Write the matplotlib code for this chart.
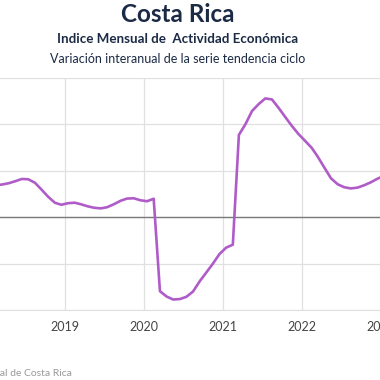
import matplotlib.pyplot as plt
import matplotlib.dates as mdates
import pandas as pd
import datetime as dt

# variacion interanual IMAE, serie tendencia ciclo (%), ene-2018 .. ene-2023
valores = [3.33, 3.44, 3.52, 3.66, 3.87, 4.12, 4.09, 3.71, 2.96, 2.20, 1.56, 1.34,
           1.51, 1.56, 1.40, 1.18, 1.02, 0.95, 1.08, 1.40, 1.77, 2.01, 2.04, 1.83,
           1.72, 1.99, -7.98, -8.55, -8.87, -8.82, -8.58, -8.01, -6.90, -5.97, -5.00, -3.98,
           -3.28, -2.96, 8.87, 10.05, 11.45, 12.20, 12.80, 12.69, 11.77, 10.81, 9.84, 8.98,
           8.23, 7.47, 6.51, 5.32, 4.19, 3.55, 3.23, 3.10, 3.19, 3.44, 3.76, 4.14,
           4.46]
fechas = pd.date_range('2018-01-01', periods=len(valores), freq='MS') + pd.Timedelta(days=14)
anios = [2019, 2020, 2021, 2022, 2023]

color_linea = '#b05cc8'
azul = '#1b2a45'
fuentes = ['Lato', 'DejaVu Sans']

fig = plt.figure(figsize=(3.8, 3.8), dpi=100)
# el area del grafico se sale de la figura por ambos lados (recorte)
ax = fig.add_axes([-0.0366, 0.1842, 1.1421, 0.6105])

ax.plot(fechas, valores, color=color_linea, lw=1.9, solid_capstyle='round',
        solid_joinstyle='round', zorder=3)
ax.axhline(0, color='#7a7a7a', lw=1.0, zorder=2)

ax.set_xlim(dt.date(2018, 1, 1), dt.date(2023, 7, 1))
ax.set_ylim(-10, 15)
ax.set_yticks([-10, -5, 0, 5, 10, 15])
ax.set_xticks([dt.date(a, 1, 1) for a in anios])
ax.xaxis.set_major_formatter(mdates.DateFormatter('%Y'))
ax.grid(True, color='#e0e0e0', lw=0.9)
ax.set_axisbelow(True)
for s in ['top', 'left', 'right']:
    ax.spines[s].set_visible(False)
ax.spines['bottom'].set_color('#e0e0e0')
ax.tick_params(axis='x', length=0, pad=8, labelsize=9, labelcolor='#444444')
ax.tick_params(axis='y', length=0, labelleft=False)
for lbl in ax.get_xticklabels():
    lbl.set_fontfamily(fuentes)

fig.text(0.468, 0.962, 'Costa Rica', ha='center', va='center', fontsize=17.5,
         fontweight='bold', color=azul, family=fuentes)
fig.text(0.468, 0.897, 'Indice Mensual de  Actividad Económica', ha='center', va='center',
         fontsize=9.6, fontweight='bold', color=azul, family=fuentes)
fig.text(0.468, 0.845, 'Variación interanual de la serie tendencia ciclo', ha='center',
         va='center', fontsize=9, color=azul, family=fuentes)
fig.text(0.19, 0.016, 'Fuente: Banco Central de Costa Rica', ha='right', va='center',
         fontsize=7.5, color='#999999', family=fuentes)

fig.savefig('out.png', dpi=100)
